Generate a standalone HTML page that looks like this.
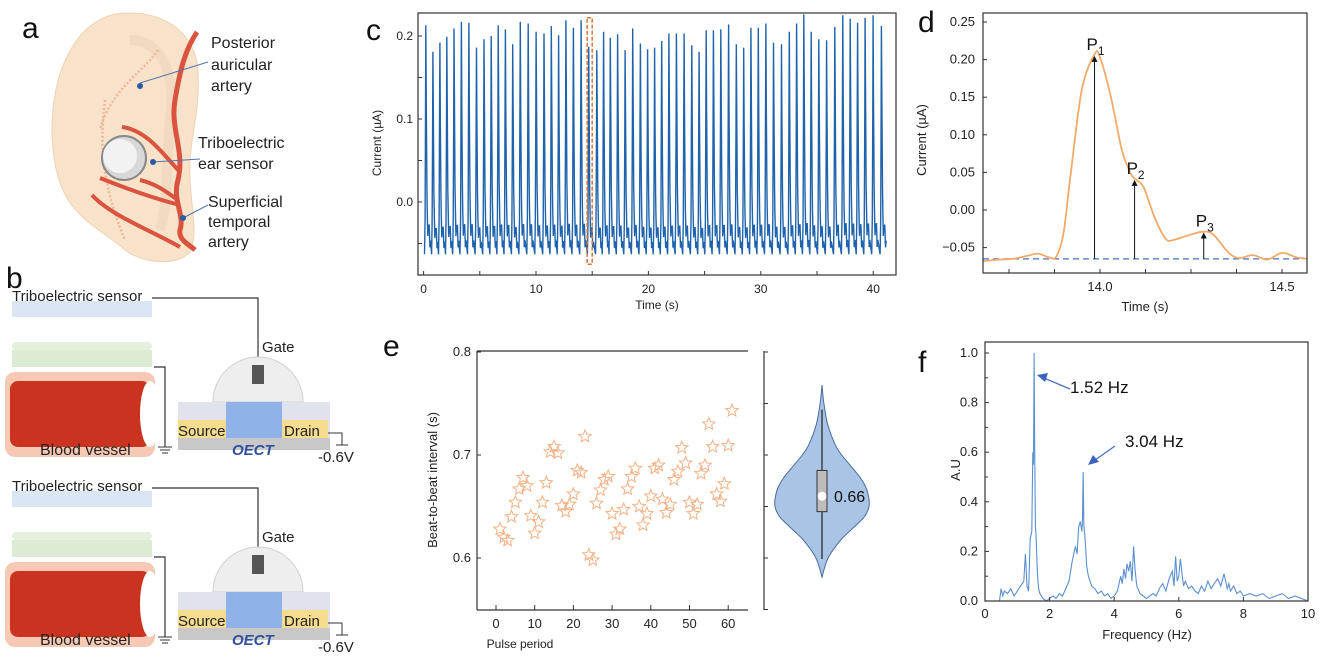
<!DOCTYPE html>
<html><head><meta charset="utf-8">
<style>
html,body{margin:0;padding:0;background:#fff;}
svg{display:block;font-family:"Liberation Sans",sans-serif;}
.tk{font-size:12px;fill:#222;}
.tkd{font-size:13px;fill:#222;}
.ti{font-size:13px;fill:#222;}
.lab{font-size:30px;fill:#111;}
.cal{font-family:"Liberation Sans",sans-serif;font-size:16px;fill:#222;}
</style></head>
<body>
<svg id="fig" width="1320" height="659" viewBox="0 0 1320 659">
<g>
<text class="lab" x="22" y="38">a</text>
<path d="M115,14 C160,8 195,30 198,70 C200,110 192,130 190,160 C188,200 200,230 190,252 C175,268 140,262 125,250 C105,232 85,225 68,200 C50,170 48,120 58,80 C70,40 90,20 115,14Z" fill="#f8e2c9" stroke="#eed3b5"/>
<path d="M130,40 C165,40 175,80 170,120 C165,160 170,200 160,230" fill="none" stroke="#efd6ba" stroke-width="10" opacity="0.6"/>
<path d="M158,50 C145,70 110,90 100,130 M105,100 C100,140 100,180 125,240" fill="none" stroke="#f2b79a" stroke-width="2.5" stroke-dasharray="2 2"/>
<path d="M197,32 C185,50 180,70 175,100 C170,130 185,150 178,180 C172,200 185,215 180,230 C178,240 190,245 195,250" fill="none" stroke="#d9533f" stroke-width="5"/>
<path d="M122,127 C145,130 160,150 178,170 M100,178 C130,190 160,200 180,205 M92,195 C110,215 150,230 180,247 M140,180 C160,185 170,195 178,200" fill="none" stroke="#d9533f" stroke-width="4"/>
<circle cx="124" cy="158" r="22" fill="#d8d8d8" stroke="#888" stroke-width="2"/>
<circle cx="120" cy="156" r="17" fill="#f2f2f2"/>
<line x1="140" y1="83" x2="208" y2="62" stroke="#5577aa"/><circle cx="140" cy="86" r="3" fill="#2a5aa8"/>
<line x1="153" y1="162" x2="200" y2="159" stroke="#5577aa"/><circle cx="153" cy="162" r="3" fill="#2a5aa8"/>
<line x1="183" y1="218" x2="208" y2="205" stroke="#5577aa"/><circle cx="183" cy="218" r="3" fill="#2a5aa8"/>
<text class="cal" x="211" y="48">Posterior</text><text class="cal" x="211" y="70">auricular</text><text class="cal" x="211" y="91">artery</text>
<text class="cal" x="198" y="148">Triboelectric</text><text class="cal" x="198" y="169">ear sensor</text>
<text class="cal" x="208" y="207">Superficial</text><text class="cal" x="208" y="227">temporal</text><text class="cal" x="208" y="247">artery</text>
</g>
<g>
<text class="lab" x="6" y="288">b</text>
<g id="bTop">
<rect x="12" y="301" width="140" height="16" fill="#dbe6f5"/>
<text class="cal" x="12" y="301" style="font-size:15px">Triboelectric sensor</text>
<rect x="12" y="350" width="140" height="17" fill="#dcebd4"/>
<rect x="12" y="342" width="140" height="8" rx="4" fill="#e6f0de"/>
<rect x="5" y="372" width="150" height="85" rx="10" fill="#f6c9b5"/>
<rect x="10" y="381" width="140" height="66" rx="8" fill="#c9331f"/>
<ellipse cx="150" cy="414" rx="10" ry="33" fill="#fff"/>
<text class="cal" x="40" y="455" style="font-size:16px">Blood vessel</text>
<path d="M152,298 H258 V365 M154,367 H165 V447" fill="none" stroke="#333" stroke-width="1.2"/>
<path d="M158,447 H172 M160,450 H170 M162,453 H168" stroke="#333"/>
<path d="M213,402 A45,45 0 0 1 303,402Z" fill="#eeeeee" stroke="#d0d0d0"/>
<rect x="252" y="365" width="12" height="19" fill="#555"/>
<text class="cal" x="262" y="352" style="font-size:15px">Gate</text>
<rect x="178" y="402" width="152" height="48" fill="#e1e3ec"/>
<rect x="178" y="438" width="152" height="12" fill="#c8c8c8"/>
<rect x="178" y="420" width="48" height="18" fill="#f5dc8f"/>
<rect x="226" y="402" width="56" height="36" fill="#8fb2e8"/>
<rect x="282" y="420" width="46" height="18" fill="#f5dc8f"/>
<text class="cal" x="178" y="436" style="font-size:15px">Source</text>
<text class="cal" x="284" y="436" style="font-size:15px">Drain</text>
<text x="232" y="455" style="font-size:15px;font-style:italic;font-weight:bold;fill:#2f4f9f">OECT</text>
<path d="M328,433 H342 V445 M336,445 H348" fill="none" stroke="#333"/>
<text class="cal" x="318" y="462" style="font-size:15px">-0.6V</text>
</g>
<use href="#bTop" y="190"/>
</g>
<g id="charts"></g>
</svg>
<script>
const beatIntervals=[0.628,0.620,0.617,0.640,0.654,0.667,0.678,0.670,0.641,0.624,0.635,0.654,0.673,0.703,0.708,0.702,0.651,0.645,0.652,0.662,0.685,0.683,0.718,0.603,0.598,0.653,0.666,0.676,0.679,0.643,0.623,0.628,0.647,0.667,0.679,0.687,0.650,0.632,0.643,0.660,0.687,0.690,0.657,0.644,0.652,0.676,0.684,0.707,0.692,0.654,0.643,0.652,0.682,0.690,0.730,0.708,0.662,0.655,0.672,0.709,0.743];
const pulsePeriods=beatIntervals.map((v,i)=>i+1);
const peakHeights=[0.213,0.181,0.192,0.199,0.209,0.217,0.216,0.186,0.196,0.200,0.213,0.208,0.190,0.217,0.215,0.205,0.203,0.212,0.201,0.219,0.210,0.219,0.187,0.183,0.205,0.198,0.202,0.183,0.209,0.191,0.184,0.186,0.194,0.203,0.203,0.203,0.189,0.181,0.207,0.207,0.208,0.214,0.190,0.186,0.210,0.210,0.215,0.192,0.190,0.205,0.215,0.226,0.205,0.196,0.195,0.211,0.225,0.221,0.216,0.222,0.225,0.212];
const firstPeak=0.2;
const cYTicks=[0.0,0.1,0.2], cXTicks=[0,10,20,30,40];
const dTime=[13.68,13.72,13.76,13.80,13.83,13.86,13.88,13.90,13.92,13.95,13.985,14.0,14.03,14.06,14.085,14.10,14.12,14.15,14.18,14.20,14.24,14.28,14.31,14.35,14.38,14.42,14.46,14.50,14.54,14.57];
const dCurrent=[-0.068,-0.066,-0.065,-0.061,-0.058,-0.063,-0.062,-0.03,0.05,0.16,0.207,0.203,0.15,0.08,0.048,0.040,0.030,-0.01,-0.038,-0.040,-0.034,-0.029,-0.032,-0.055,-0.064,-0.060,-0.066,-0.057,-0.063,-0.065];
const dPeaksT=[13.985,14.095,14.285], dPeaksV=[0.205,0.040,-0.030], dPeakNames=["1","2","3"];
const dBaseline=-0.065;
const dYTicks=[0.25,0.20,0.15,0.10,0.05,0.00,-0.05], dXTicks=[14.0,14.5];
const violinY=[0.768,0.75,0.73,0.71,0.70,0.69,0.68,0.67,0.66,0.65,0.64,0.63,0.62,0.61,0.60,0.59,0.581];
const violinDensity=[0,0.04,0.12,0.28,0.42,0.6,0.78,0.92,0.99,1.0,0.9,0.68,0.45,0.27,0.13,0.05,0];
const violinStats={q1:0.645,q3:0.685,lo:0.599,hi:0.744,median:0.66};
const eYTicks=[0.6,0.7,0.8], eXTicks=[0,10,20,30,40,50,60];
const fFreq=[0,0.45,0.5,0.55,0.6,0.7,0.8,0.9,1.0,1.1,1.2,1.25,1.3,1.35,1.4,1.45,1.48,1.5,1.52,1.54,1.56,1.58,1.62,1.66,1.7,1.8,1.9,2.0,2.1,2.2,2.3,2.4,2.5,2.6,2.7,2.8,2.85,2.9,2.95,3.0,3.02,3.04,3.06,3.1,3.15,3.2,3.3,3.4,3.5,3.6,3.7,3.8,3.9,4.0,4.1,4.2,4.25,4.3,4.35,4.4,4.45,4.5,4.55,4.6,4.65,4.7,4.8,4.9,5.0,5.1,5.2,5.3,5.4,5.5,5.6,5.7,5.8,5.85,5.9,5.95,6.0,6.05,6.1,6.15,6.2,6.3,6.4,6.5,6.6,6.7,6.8,6.9,7.0,7.1,7.2,7.3,7.4,7.5,7.55,7.6,7.7,7.8,7.9,8.0,8.2,8.4,8.6,8.8,9.0,9.2,9.4,9.6,9.8,10.0];
const fAmp=[0,0,0.05,0.02,0.04,0.03,0.05,0.02,0.04,0.06,0.08,0.19,0.06,0.04,0.25,0.28,0.6,0.55,1.0,0.62,0.3,0.27,0.12,0.05,0.03,0.01,0.0,0.01,0.02,0.01,0.03,0.02,0.05,0.08,0.16,0.22,0.19,0.3,0.32,0.28,0.33,0.52,0.31,0.25,0.14,0.1,0.06,0.05,0.03,0.04,0.02,0.03,0.01,0.02,0.04,0.1,0.07,0.13,0.09,0.15,0.12,0.16,0.08,0.22,0.12,0.06,0.03,0.02,0.01,0.02,0.03,0.02,0.05,0.07,0.04,0.09,0.12,0.06,0.18,0.08,0.1,0.17,0.11,0.06,0.08,0.05,0.06,0.04,0.03,0.06,0.04,0.08,0.05,0.07,0.09,0.06,0.11,0.05,0.07,0.04,0.06,0.03,0.04,0.02,0.03,0.02,0.03,0.01,0.02,0.03,0.01,0.02,0.01,0.0];
const fYTicks=[0.0,0.2,0.4,0.6,0.8,1.0], fXTicks=[0,2,4,6,8,10];

const NS="http://www.w3.org/2000/svg";
const root=document.getElementById('charts');
function mk(tag,attrs,parent,text){const e=document.createElementNS(NS,tag);for(const k in attrs)e.setAttribute(k,attrs[k]);if(text!==undefined)e.textContent=text;(parent||root).appendChild(e);return e;}
function grp(name){const g=mk('g',{});


return g;}
function smooth(p){let d='M'+p[0][0].toFixed(1)+','+p[0][1].toFixed(1);for(let i=0;i<p.length-1;i++){const p0=p[Math.max(0,i-1)],p1=p[i],p2=p[i+1],p3=p[Math.min(p.length-1,i+2)];const c1=[p1[0]+(p2[0]-p0[0])/6,p1[1]+(p2[1]-p0[1])/6],c2=[p2[0]-(p3[0]-p1[0])/6,p2[1]-(p3[1]-p1[1])/6];d+=`C${c1[0].toFixed(1)},${c1[1].toFixed(1)} ${c2[0].toFixed(1)},${c2[1].toFixed(1)} ${p2[0].toFixed(1)},${p2[1].toFixed(1)}`;}return d;}

(function(){
const g=grp('panel-c-current-trace');
const L=418,R=896,T=13,B=275;
const xc=t=>423.6+t*11.24, yc=v=>202-v*830;
mk('text',{class:'lab',x:366,y:40},g,'c');
const tmplDt=[-0.12,-0.07,-0.03,0,0.04,0.09,0.12,0.17,0.22,0.3,0.36,0.42];
const tmplF=[0,0.15,0.6,1,0.65,0.3,0.2,0.08,0.12,0.13,0.03,0.06];
const base=-0.063;
let times=[firstPeak];for(let i=0;i<beatIntervals.length;i++)times.push(times[i]+beatIntervals[i]);
let pts=[];
times.forEach((t,i)=>{const h=peakHeights[i%peakHeights.length];tmplDt.forEach((d,k)=>{const tt=t+d;if(tt>=-0.2&&tt<=41.6)pts.push([xc(tt),yc(base+(h-base)*tmplF[k])]);});});
const line=mk('polyline',{points:pts.map(p=>p[0].toFixed(1)+','+p[1].toFixed(1)).join(' '),fill:'none',stroke:'#1f63ad','stroke-width':1.4},g);


const sel=mk('rect',{x:xc(14.55),y:yc(0.222),width:xc(15.0)-xc(14.55),height:yc(-0.075)-yc(0.222),fill:'none',stroke:'#d4763a','stroke-width':1.5,'stroke-dasharray':'4 2'},g);


mk('rect',{x:L,y:T,width:R-L,height:B-T,fill:'none',stroke:'#333','stroke-width':1.2},g);
[-0.05,0,0.05,0.1,0.15,0.2].forEach(v=>mk('line',{x1:L,x2:L+4,y1:yc(v),y2:yc(v),stroke:'#333'},g));
cYTicks.forEach(v=>mk('text',{class:'tk',x:L-5,y:yc(v)+4,'text-anchor':'end'},g,v.toFixed(1)));
[0,5,10,15,20,25,30,35,40].forEach(v=>mk('line',{x1:xc(v),x2:xc(v),y1:B,y2:B-4,stroke:'#333'},g));
cXTicks.forEach(v=>mk('text',{class:'tk',x:xc(v),y:293,'text-anchor':'middle'},g,v));
mk('text',{class:'tk',x:657,y:309,'text-anchor':'middle'},g,'Time (s)');
mk('text',{class:'tk',transform:'translate(381,143) rotate(-90)','text-anchor':'middle'},g,'Current (µA)');
})();

(function(){
const g=grp('panel-d-single-pulse');
const L=983,R=1307,T=13,B=273;
const xd=t=>1100+(t-14)*364, yd=v=>210-v*752;
mk('text',{class:'lab',x:918,y:32},g,'d');
mk('line',{x1:L,x2:R,y1:yd(dBaseline),y2:yd(dBaseline),stroke:'#4a6fc0','stroke-width':1.3,'stroke-dasharray':'6 4'},g);
const pl=mk('path',{d:smooth(dTime.map((t,i)=>[xd(t),yd(dCurrent[i])])),fill:'none',stroke:'#f2a96a','stroke-width':1.8},g);


dPeaksT.forEach((t,i)=>{
 mk('line',{x1:xd(t),x2:xd(t),y1:yd(dBaseline),y2:yd(dPeaksV[i])+3,stroke:'#111','stroke-width':1},g);
 mk('path',{d:`M${xd(t)-3},${yd(dPeaksV[i])+6} L${xd(t)},${yd(dPeaksV[i])} L${xd(t)+3},${yd(dPeaksV[i])+6}Z`,fill:'#111'},g);
 const tx=mk('text',{x:xd(t)-8,y:yd(dPeaksV[i])-6,style:'font-size:17px;fill:#111'},g);
 
 
 tx.textContent='P';mk('tspan',{dy:5,style:'font-size:12px'},tx,dPeakNames[i]);
});
mk('rect',{x:L,y:T,width:R-L,height:B-T,fill:'none',stroke:'#333','stroke-width':1.2},g);
dYTicks.forEach(v=>{mk('line',{x1:L,x2:L+4,y1:yd(v),y2:yd(v),stroke:'#333'},g);mk('text',{class:'tkd',x:L-8,y:yd(v)+4,'text-anchor':'end'},g,v.toFixed(2).replace('-','−'));});
[13.75,13.875,14,14.125,14.25,14.375,14.5].forEach(v=>mk('line',{x1:xd(v),x2:xd(v),y1:B,y2:B-4,stroke:'#333'},g));
dXTicks.forEach(v=>mk('text',{class:'tkd',x:xd(v),y:291,'text-anchor':'middle'},g,v.toFixed(1)));
mk('text',{class:'ti',x:1145,y:311,'text-anchor':'middle'},g,'Time (s)');
mk('text',{class:'tkd',transform:'translate(926,140) rotate(-90)','text-anchor':'middle'},g,'Current (µA)');
})();

(function(){
const g=grp('panel-e-beat-intervals');
const L=477,R=748,T=351,B=610;
const xe=p=>496+p*3.87, ye=v=>455-(v-0.7)*1030;
mk('text',{class:'lab',x:383,y:356},g,'e');
mk('line',{x1:L,x2:L,y1:T,y2:B,stroke:'#333','stroke-width':1.2},g);
mk('line',{x1:L,x2:R,y1:T,y2:T,stroke:'#333','stroke-width':1.2},g);
mk('line',{x1:L,x2:R,y1:B,y2:B,stroke:'#333','stroke-width':1.2},g);
eYTicks.forEach(v=>{mk('line',{x1:L,x2:L+4,y1:ye(v),y2:ye(v),stroke:'#333'},g);mk('text',{class:'tkd',x:L-6,y:ye(v)+4,'text-anchor':'end'},g,v.toFixed(1));});
eXTicks.forEach(v=>{mk('line',{x1:xe(v),x2:xe(v),y1:B,y2:B-5,stroke:'#333'},g);mk('text',{class:'tkd',x:xe(v),y:628,'text-anchor':'middle'},g,v);});
mk('text',{class:'tk',x:520,y:648,'text-anchor':'middle'},g,'Pulse period');
mk('text',{class:'tkd',transform:'translate(437,480) rotate(-90)','text-anchor':'middle'},g,'Beat-to-beat interval (s)');
function star(cx,cy,r){let d='';for(let k=0;k<10;k++){const a=-Math.PI/2+k*Math.PI/5,rr=k%2?r*0.45:r;d+=(k?'L':'M')+(cx+rr*Math.cos(a)).toFixed(1)+','+(cy+rr*Math.sin(a)).toFixed(1);}return d+'Z';}
pulsePeriods.forEach((p,i)=>{const s=mk('path',{d:star(xe(p),ye(beatIntervals[i]),6.5),fill:'none',stroke:'#f4b183','stroke-width':1},g);

});
const VX=764;
mk('line',{x1:VX,x2:VX,y1:T,y2:B,stroke:'#333','stroke-width':1.2},g);
[0.8,0.75,0.7,0.65,0.6,0.55].forEach(v=>mk('line',{x1:VX,x2:VX+4,y1:ye(v),y2:ye(v),stroke:'#333'},g));
const cx=822,hw=47;
const right=violinY.map((v,i)=>[cx+violinDensity[i]*hw,ye(v)]);
const left=violinY.map((v,i)=>[cx-violinDensity[i]*hw,ye(v)]).reverse();
const vp=mk('path',{d:smooth(right)+smooth(left).replace('M','L')+'Z',fill:'#a9c4e4',stroke:'#4a6d9a','stroke-width':1},g);


mk('line',{x1:cx,x2:cx,y1:ye(violinStats.hi),y2:ye(violinStats.lo),stroke:'#222','stroke-width':1.2},g);
mk('rect',{x:cx-5,y:ye(violinStats.q3),width:10,height:ye(violinStats.q1)-ye(violinStats.q3),fill:'#bdbdbd',stroke:'#333'},g);
mk('circle',{cx:cx,cy:ye(violinStats.median),r:4.5,fill:'#fff'},g);
mk('text',{x:834,y:ye(violinStats.median)+6,style:'font-size:16px;fill:#111'},g,violinStats.median.toFixed(2));
})();

(function(){
const g=grp('panel-f-spectrum');
const L=985,R=1308,T=342,B=601;
const xf=f=>985+f*32.3, yf=a=>601-a*248;
mk('text',{class:'lab',x:918,y:372},g,'f');
const pl=mk('polyline',{points:fFreq.map((f,i)=>xf(f).toFixed(1)+','+yf(fAmp[i]).toFixed(1)).join(' '),fill:'none',stroke:'#5b8fd0','stroke-width':1.1},g);


mk('rect',{x:L,y:T,width:R-L,height:B-T,fill:'none',stroke:'#333','stroke-width':1.2},g);
fYTicks.forEach(v=>{mk('line',{x1:L,x2:L+4,y1:yf(v),y2:yf(v),stroke:'#333'},g);mk('text',{class:'tkd',x:L-7,y:yf(v)+4,'text-anchor':'end'},g,v.toFixed(1));});
[0.1,0.3,0.5,0.7,0.9].forEach(v=>mk('line',{x1:L,x2:L+3,y1:yf(v),y2:yf(v),stroke:'#333'},g));
fXTicks.forEach(v=>{mk('line',{x1:xf(v),x2:xf(v),y1:B,y2:B-4,stroke:'#333'},g);mk('text',{class:'tkd',x:xf(v),y:618,'text-anchor':'middle'},g,v);});
mk('text',{class:'ti',x:1147,y:639,'text-anchor':'middle'},g,'Frequency (Hz)');
mk('text',{class:'ti',transform:'translate(960,470) rotate(-90)','text-anchor':'middle'},g,'A.U');
mk('line',{x1:1070,y1:389,x2:1044,y2:378,stroke:'#4a6fc0','stroke-width':1.3},g);
mk('path',{d:'M1037,375 L1048,373 L1045,382Z',fill:'#3a62c0'},g);
mk('text',{x:1070,y:393,style:'font-size:17px;fill:#111'},g,'1.52 Hz');
mk('line',{x1:1115,y1:446,x2:1095,y2:460,stroke:'#4a6fc0','stroke-width':1.3},g);
mk('path',{d:'M1088,465 L1093,455 L1099,462Z',fill:'#3a62c0'},g);
mk('text',{x:1125,y:447,style:'font-size:17px;fill:#111'},g,'3.04 Hz');
})();
</script>
</body></html>
